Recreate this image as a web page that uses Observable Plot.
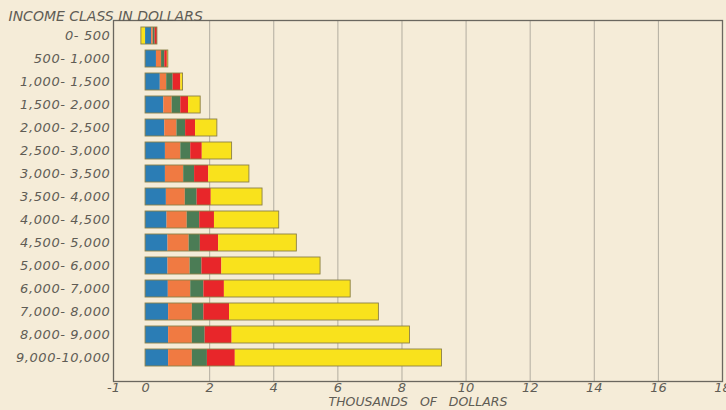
<!DOCTYPE html>
<html><head><meta charset="utf-8">
<script src="https://cdn.jsdelivr.net/npm/d3@7"></script>
<script src="https://cdn.jsdelivr.net/npm/@observablehq/plot@0.6"></script>
<style>
html,body{margin:0;padding:0;background:#f5ecd8;}
svg{font-family:"DejaVu Sans",sans-serif;}
</style></head>
<body><div id="chart"></div>
<script>
const incomeClasses = ["0- 500","500- 1,000","1,000- 1,500","1,500- 2,000","2,000- 2,500","2,500- 3,000","3,000- 3,500","3,500- 4,000","4,000- 4,500","4,500- 5,000","5,000- 6,000","6,000- 7,000","7,000- 8,000","8,000- 9,000","9,000-10,000"];
const seriesNames = ["Segment 1","Segment 2","Segment 3","Segment 4","Segment 5"];
const seriesColors = ["#2b7db5","#f07a42","#4b7c55","#e8262a","#f9e21c"];
const seg1 = [0.19,0.34,0.46,0.57,0.60,0.62,0.62,0.65,0.67,0.70,0.70,0.71,0.72,0.72,0.72];
const seg2 = [0.05,0.16,0.20,0.26,0.38,0.48,0.57,0.59,0.63,0.66,0.69,0.70,0.74,0.74,0.74];
const seg3 = [0.06,0.10,0.20,0.27,0.27,0.31,0.34,0.37,0.39,0.35,0.37,0.41,0.36,0.40,0.47];
const seg4 = [0.07,0.08,0.24,0.24,0.31,0.36,0.44,0.44,0.46,0.57,0.62,0.64,0.80,0.84,0.87];
const seg5 = [-0.13,0.03,0.07,0.38,0.68,0.93,1.27,1.60,2.02,2.44,3.08,3.94,4.66,5.55,6.45];
const xTicks = [-1,0,2,4,6,8,10,12,14,16,18];

const segs = [seg1,seg2,seg3,seg4,seg5];
const rows = [];
segs.forEach((arr, si) => arr.forEach((v, i) => rows.push({cls: incomeClasses[i], series: seriesNames[si], value: v})));
const totals = incomeClasses.map((c, i) => {
  const vals = segs.map(a => a[i]);
  return {cls: c, x1: d3.sum(vals.filter(v => v < 0)), x2: d3.sum(vals.filter(v => v > 0))};
});

const ink = "#5f5c55";
const plot = Plot.plot({
  width: 726, height: 410,
  marginLeft: 113, marginRight: 4, marginTop: 20, marginBottom: 29,
  style: {background: "#f5ecd8", color: ink, fontSize: "13px", fontStyle: "italic", fontFamily: "DejaVu Sans, sans-serif"},
  x: {domain: [-1, 18], ticks: xTicks, tickSize: 0, tickPadding: 1, tickFormat: d => String(d), label: null},
  y: {domain: incomeClasses, range: [20.25, 372.75], paddingInner: 0.27, paddingOuter: 0, tickSize: 0, tickPadding: 3, label: null},
  color: {domain: seriesNames, range: seriesColors},
  marks: [
    Plot.ruleX(xTicks.filter(d => d > 0), {stroke: "#aaa69a", strokeWidth: 0.9}),
    Plot.barX(rows, {y: "cls", x: "value", fill: "series", order: seriesNames}),
    Plot.barX(totals, {y: "cls", x1: "x1", x2: "x2", fill: "none", stroke: "#8c8048", strokeWidth: 0.9}),
    Plot.frame({stroke: "#6a675f", strokeWidth: 1.3}),
    Plot.text(["INCOME CLASS IN DOLLARS"], {frameAnchor: "top-left", dx: -105, dy: -9, textAnchor: "start", fontSize: 14, fill: ink, letterSpacing: 1.6}),
    Plot.text(["THOUSANDS   OF   DOLLARS"], {frameAnchor: "bottom", dy: 24, fontSize: 12.5, fill: ink, letterSpacing: 2.6})
  ]
});
plot.querySelectorAll("text").forEach(t => { t.setAttribute("xml:space", "preserve"); t.style.whiteSpace = "pre"; });
plot.querySelectorAll("g[aria-label='y-axis tick label'] text").forEach(t => t.setAttribute("letter-spacing", "0.6"));
document.getElementById("chart").appendChild(plot);
</script></body></html>
